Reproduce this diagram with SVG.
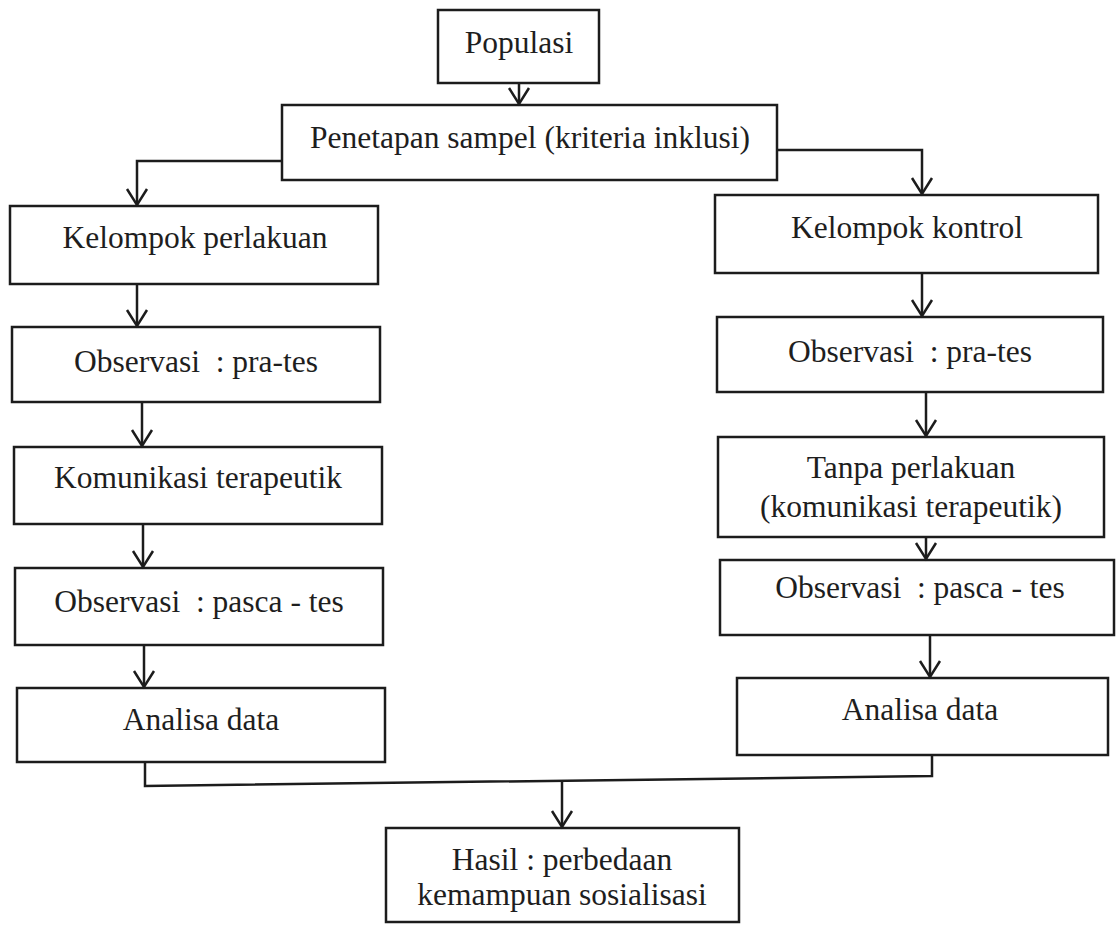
<svg xmlns="http://www.w3.org/2000/svg" width="1117" height="926" viewBox="0 0 1117 926">
<style>
.box{fill:none;stroke:#1c1c1c;stroke-width:2.5}
.t{font-family:"Liberation Serif","Times New Roman",serif;font-size:31.5px;fill:#1e1e1e;text-anchor:middle;white-space:pre}
.c{fill:none;stroke:#1c1c1c;stroke-width:2.5}
.a{marker-end:url(#ah)}
</style>
<defs>
<marker id="ah" markerUnits="userSpaceOnUse" markerWidth="30" markerHeight="30" refX="0" refY="0" orient="auto" overflow="visible">
<path d="M-16,-10 L0,0 L-16,10" fill="none" stroke="#1c1c1c" stroke-width="2.5"/>
</marker>
</defs>
<rect width="1117" height="926" fill="#ffffff"/>
<g id="connectors">
<path class="c a" d="M519,83 V104"/>
<path class="c a" d="M282,161 H137 V205"/>
<path class="c a" d="M777,150 H922 V194"/>
<path class="c a" d="M137,284 V326"/>
<path class="c a" d="M142,402 V446"/>
<path class="c a" d="M143,524 V567"/>
<path class="c a" d="M144,645 V687"/>
<path class="c a" d="M922,273 V316"/>
<path class="c a" d="M926,392 V436"/>
<path class="c a" d="M926,537 V559"/>
<path class="c a" d="M930,635 V677"/>
<path class="c" d="M145,762 V786 L932,776 V755"/>
<path class="c a" d="M562,781 V827"/>
</g>
<g id="populasi"><rect class="box" x="438" y="10" width="161" height="73"/><text class="t" x="519" y="53">Populasi</text></g>
<g id="penetapan"><rect class="box" x="282" y="105" width="495" height="75"/><text class="t" x="530" y="148">Penetapan sampel (kriteria inklusi)</text></g>
<g id="kelompok-perlakuan"><rect class="box" x="10" y="206" width="368" height="78"/><text class="t" x="195" y="248">Kelompok perlakuan</text></g>
<g id="obs-pra-l"><rect class="box" x="12" y="327" width="368" height="75"/><text class="t" x="196" y="372">Observasi  : pra-tes</text></g>
<g id="komunikasi"><rect class="box" x="14" y="447" width="368" height="77"/><text class="t" x="198" y="488">Komunikasi terapeutik</text></g>
<g id="obs-pasca-l"><rect class="box" x="15" y="568" width="368" height="77"/><text class="t" x="199" y="612">Observasi  : pasca - tes</text></g>
<g id="analisa-l"><rect class="box" x="17" y="688" width="368" height="74"/><text class="t" x="201" y="730">Analisa data</text></g>
<g id="kelompok-kontrol"><rect class="box" x="715" y="195" width="383" height="78"/><text class="t" x="907" y="238">Kelompok kontrol</text></g>
<g id="obs-pra-r"><rect class="box" x="717" y="317" width="386" height="75"/><text class="t" x="910" y="362">Observasi  : pra-tes</text></g>
<g id="tanpa"><rect class="box" x="718" y="437" width="386" height="100"/><text class="t" x="911" y="478">Tanpa perlakuan</text><text class="t" x="911" y="517">(komunikasi terapeutik)</text></g>
<g id="obs-pasca-r"><rect class="box" x="720" y="560" width="394" height="75"/><text class="t" x="920" y="598">Observasi  : pasca - tes</text></g>
<g id="analisa-r"><rect class="box" x="737" y="678" width="371" height="77"/><text class="t" x="920" y="720">Analisa data</text></g>
<g id="hasil"><rect class="box" x="386" y="828" width="353" height="94"/><text class="t" x="562" y="870">Hasil : perbedaan</text><text class="t" x="562" y="905">kemampuan sosialisasi</text></g>
</svg>
